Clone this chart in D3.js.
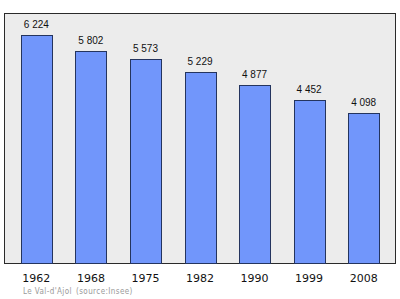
<!DOCTYPE html>
<html>
<head>
<meta charset="utf-8">
<script src="https://cdn.jsdelivr.net/npm/d3@7"></script>
<style>
  body { margin: 0; background: #fff; }
  svg { display: block; }
</style>
</head>
<body>
<div id="chart"></div>
<script>
// Population, Le Val-d'Ajol
var years = ['1962', '1968', '1975', '1982', '1990', '1999', '2008'];
var population = [6224, 5802, 5573, 5229, 4877, 4452, 4098];
var placeName = 'Le Val-d\'Ajol';
var sourceNote = '(source:Insee)';

var width = 400;
var height = 299;

var frame = {left: 4.5, top: 13.5, right: 395.5, bottom: 263.5};

var svg = d3.select('#chart').append('svg')
  .attr('width', width)
  .attr('height', height);

var fmt = function(v) {
  return d3.format(',')(v).replace(/,/g, ' ');
};

var x = d3.scaleBand()
  .domain(years)
  .range([frame.left, frame.right])
  .paddingInner(0.433)
  .paddingOuter(0.3);

var y = d3.scaleLinear()
  .domain([0, 6812])
  .range([frame.bottom, frame.top]);

// plot area
svg.append('rect')
  .attr('x', frame.left)
  .attr('y', frame.top)
  .attr('width', frame.right - frame.left)
  .attr('height', frame.bottom - frame.top)
  .attr('fill', '#ececec')
  .attr('stroke', '#2a2a2a')
  .attr('stroke-width', 1);

svg.selectAll('rect.bar')
  .data(population)
  .enter()
  .append('rect')
  .attr('class', 'bar')
  .attr('x', function(d, i) { return Math.round(x(years[i])) + 0.5; })
  .attr('y', function(d) { return Math.round(y(d)) + 0.5; })
  .attr('width', Math.round(x.bandwidth()))
  .attr('height', function(d) { return frame.bottom - Math.round(y(d)) - 0.5; })
  .attr('fill', '#7196fb')
  .attr('stroke', '#24345e')
  .attr('stroke-width', 1);

svg.selectAll('text.value')
  .data(population)
  .enter()
  .append('text')
  .attr('class', 'value')
  .attr('x', function(d, i) { return x(years[i]) + x.bandwidth() / 2; })
  .attr('y', function(d) { return y(d) - 7; })
  .attr('text-anchor', 'middle')
  .style('font-family', 'Liberation Sans, Arial, sans-serif')
  .style('font-size', '10px')
  .style('fill', '#111')
  .text(fmt);

var xAxis = d3.axisBottom(x).tickSize(0).tickPadding(0);

var axis = svg.append('g')
  .attr('transform', 'translate(0,' + frame.bottom + ')')
  .call(xAxis);

axis.select('.domain').remove();
axis.selectAll('text')
  .attr('y', 18.5)
  .attr('dy', null)
  .style('font-family', 'DejaVu Sans, sans-serif')
  .style('font-size', '11px')
  .style('fill', '#111');

svg.append('text')
  .attr('x', 23)
  .attr('y', 294)
  .style('font-family', 'DejaVu Sans Condensed, DejaVu Sans, sans-serif')
  .style('font-size', '8px')
  .style('letter-spacing', '0.4px')
  .style('fill', '#999')
  .text(placeName);

svg.append('text')
  .attr('x', 76)
  .attr('y', 294)
  .style('font-family', 'DejaVu Sans Condensed, DejaVu Sans, sans-serif')
  .style('font-size', '8px')
  .style('letter-spacing', '0.4px')
  .style('fill', '#999')
  .text(sourceNote);
</script>
</body>
</html>
